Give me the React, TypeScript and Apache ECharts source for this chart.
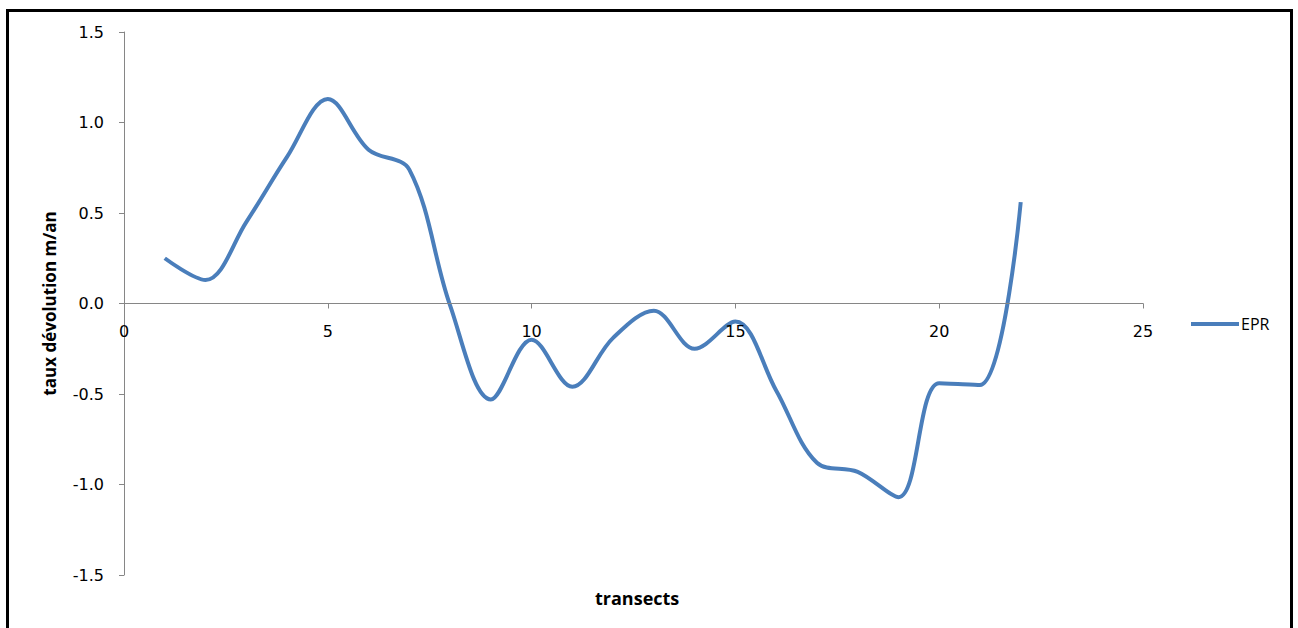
import React, { useEffect, useRef } from "react";
import * as echarts from "echarts";

// EPR rate of change per transect (m/an)
const transects = [1, 2, 3, 4, 5, 6, 7, 8, 9, 10, 11, 12, 13, 14, 15, 16, 17, 18, 19, 20, 21, 22];
const epr = [0.25, 0.13, 0.45, 0.81, 1.13, 0.85, 0.74, -0.01, -0.53, -0.2, -0.46, -0.19, -0.04, -0.25, -0.1, -0.48, -0.88, -0.93, -1.07, -0.44, -0.45, 0.56];
const seriesName = "EPR";
const xTitle = "transects";
const yTitle = "taux dévolution m/an";

const titleFont = "'Open Sans', 'DejaVu Sans', sans-serif";
const tickFont = "'DejaVu Sans', sans-serif";

const gridTop = 32;
const gridBottom = 53;
const chartHeight = 628;

export default function App() {
  const ref = useRef<HTMLDivElement>(null);

  useEffect(() => {
    if (!ref.current) return;
    const chart = echarts.init(ref.current, undefined, { renderer: "svg" });
    const plotHeight = chartHeight - gridTop - gridBottom;
    chart.setOption({
      animation: false,
      backgroundColor: "#ffffff",
      grid: { left: 124, right: 155, top: gridTop, bottom: gridBottom, containLabel: false },
      title: {
        text: xTitle,
        left: 590,
        top: 584,
        textStyle: { fontFamily: titleFont, fontSize: 18, fontWeight: "bold", color: "#000" },
      },
      legend: {
        data: [seriesName],
        left: 1186,
        top: 311,
        icon: "rect",
        itemWidth: 48,
        itemHeight: 4,
        itemGap: 4,
        textStyle: { fontFamily: titleFont, fontSize: 16, color: "#000", padding: [0, 0, 0, -3] },
      },
      xAxis: {
        type: "value",
        min: 0,
        max: 25,
        interval: 5,
        z: 5,
        // the horizontal axis crosses the vertical one at y = 0 (mid-height of the plot)
        offset: -plotHeight / 2,
        axisLine: { onZero: false, lineStyle: { color: "#868686", width: 1 } },
        axisTick: { show: true, length: 5, lineStyle: { color: "#868686" } },
        axisLabel: { fontFamily: tickFont, fontSize: 16, color: "#000", margin: 20 },
        splitLine: { show: false },
      },
      yAxis: {
        type: "value",
        min: -1.5,
        max: 1.5,
        interval: 0.5,
        name: yTitle,
        nameLocation: "middle",
        nameGap: 66,
        nameRotate: 90,
        nameTextStyle: { fontFamily: titleFont, fontSize: 17, fontWeight: "bold", color: "#000" },
        axisLine: { show: true, onZero: false, lineStyle: { color: "#868686", width: 1 } },
        axisTick: { show: true, length: 5, lineStyle: { color: "#868686" } },
        axisLabel: {
          fontFamily: tickFont,
          fontSize: 16,
          color: "#000",
          margin: 20,
          formatter: (v: number) => v.toFixed(1),
        },
        splitLine: { show: false },
      },
      series: [
        {
          name: seriesName,
          type: "line",
          data: transects.map((t, i) => [t, epr[i]]),
          smooth: 0.35,
          showSymbol: false,
          symbol: "none",
          lineStyle: { color: "#4a7ebb", width: 4 },
          itemStyle: { color: "#4a7ebb" },
        },
      ],
      graphic: [
        {
          type: "rect",
          shape: { x: 7.5, y: 10.5, width: 1284, height: 640 },
          style: { fill: "none", stroke: "#000", lineWidth: 3 },
          silent: true,
          z: 100,
        },
      ],
    });
    return () => chart.dispose();
  }, []);

  return (
    <div
      ref={ref}
      style={{ position: "fixed", left: 0, top: 0, width: 1298, height: 628, background: "#fff" }}
    />
  );
}
